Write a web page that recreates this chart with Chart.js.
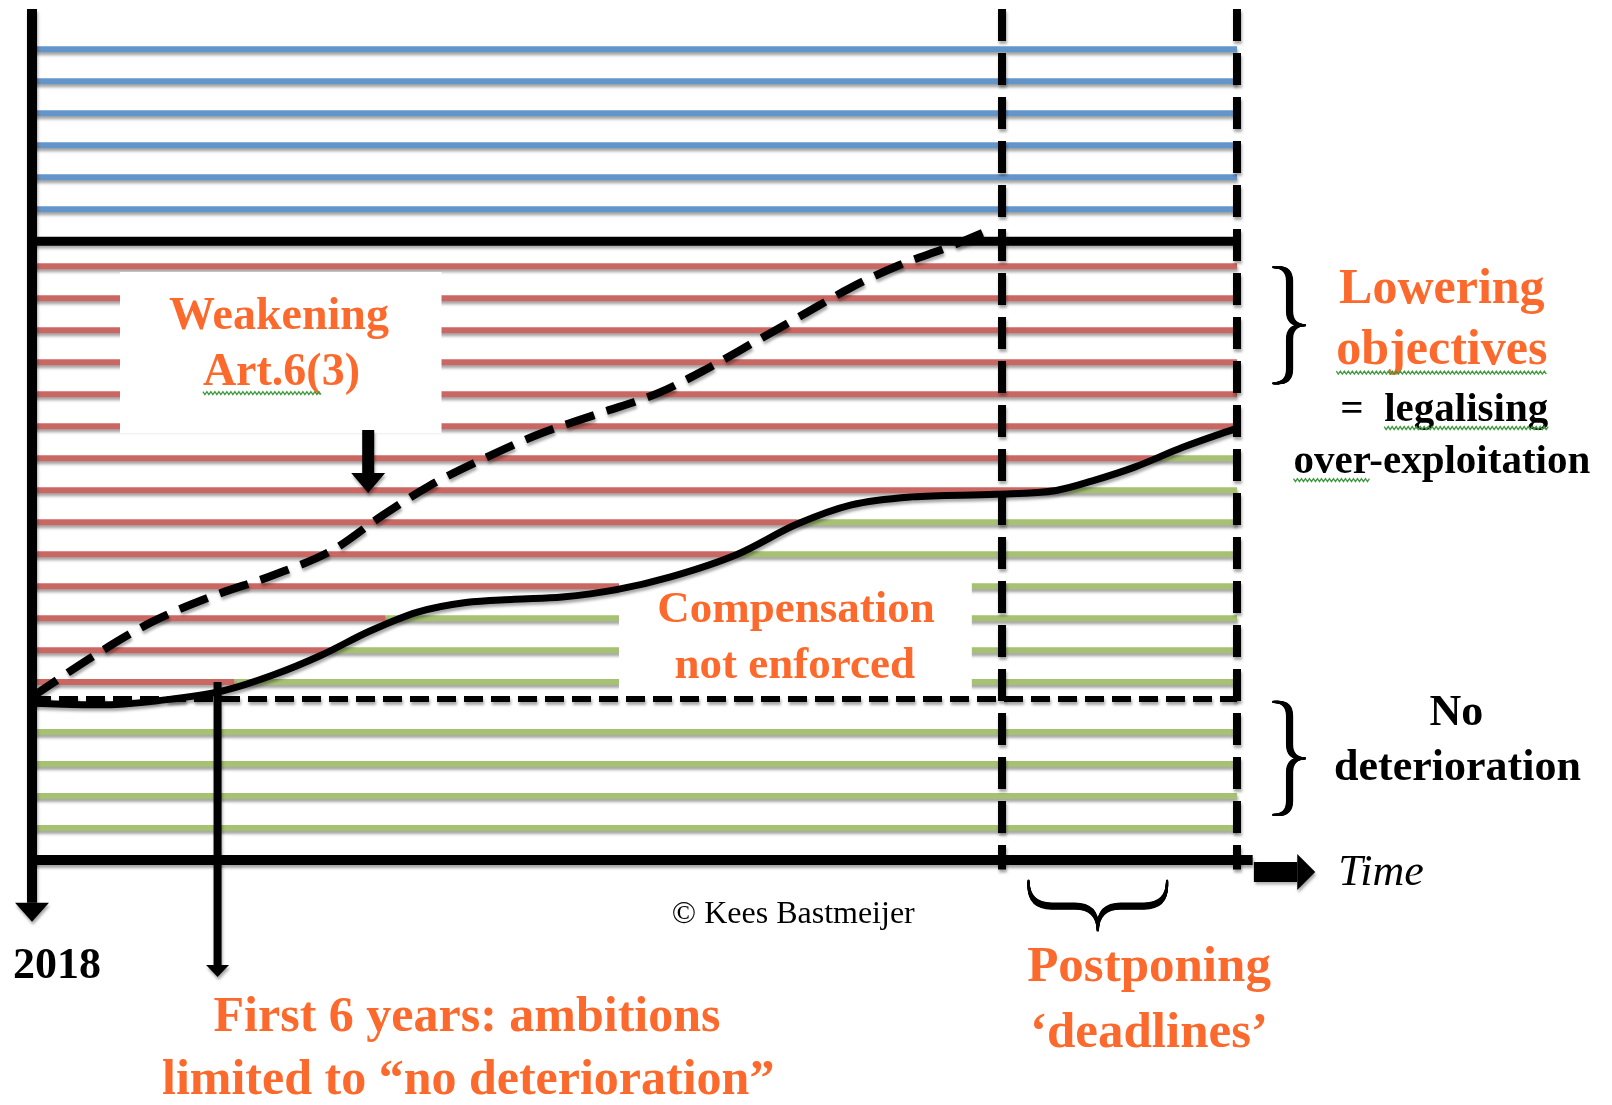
<!DOCTYPE html>
<html>
<head>
<meta charset="utf-8">
<title>Status of water bodies over time</title>
<script src="https://cdn.jsdelivr.net/npm/chart.js@4.4.1/dist/chart.umd.min.js"></script>
<style>
    html, body { margin: 0; padding: 0; background: #fff; }
    #wrap { width: 1612px; height: 1105px; position: relative; }
</style>
</head>
<body>
<div id="wrap"><canvas id="myChart"></canvas></div>
<script>
// Time: 0 = 2018 (the vertical axis), 100 = the last deadline
// Level: 0 = time axis, one unit = gap between two coloured lines
var timeStart = 0;
var timeEnd = 100;
var levelTop = 26.6;

var deadlines = [80.5, 100];
var firstCycleEnd = 15.4;        // 2018 + 6 years
var axisEnd = 101.3;

var blueLevels = [20.34, 21.34, 22.34, 23.34, 24.34, 25.34];
var goodStatusLevel = 19.34;
var redLevels = [5.56, 6.56, 7.56, 8.56, 9.56, 10.56, 11.56, 12.56, 13.56, 14.56, 15.56, 16.56, 17.56, 18.56];
// time at which the actual status passes each red level (null = never)
var redTurnsGreen = [16.8, 25.1, 29.3, 49, 58.3, 63.5, 85.3, 93.6, null, null, null, null, null, null];
var noDeteriorationLevel = 5.03;
var greenLevels = [1, 2, 3, 4];

// actual status (solid curve)
var statusTime = [0, 6, 12, 16, 20, 24, 28, 32, 36, 40, 44, 48.5, 53, 58.5, 63.5, 68, 73, 80, 85, 88, 91.5, 95.5, 100];
var statusLevel = [4.9, 4.85, 5.05, 5.3, 5.78, 6.4, 7.15, 7.75, 8.05, 8.15, 8.22, 8.45, 8.85, 9.55, 10.5, 11.1, 11.35, 11.43, 11.55, 11.85, 12.28, 12.9, 13.5];

// weakened objective (dashed curve)
var objectiveTime = [0, 5, 10, 15, 20, 25, 29, 33, 37.5, 42, 47, 52, 56, 60, 64, 68, 72, 76, 79.8];
var objectiveLevel = [5.1, 6.35, 7.45, 8.25, 8.9, 9.7, 10.75, 11.7, 12.55, 13.3, 13.95, 14.6, 15.35, 16.2, 17.05, 17.9, 18.6, 19.15, 19.75];

// white label boxes covering the lines
var boxTime = [[7.3, 34.0], [48.7, 78.0]];
var boxLevel = [[13.34, 18.38], [5.25, 9.2]];

// "Weakening" arrow
var weakenTime = 27.9;
var weakenLevels = [13.44, 12.1];

var BLUE = '#6495c9';
var RED = '#cb6762';
var GREEN = '#a6c172';
var ORANGE = '#fb6a2c';
var FONT = '"Liberation Serif", "DejaVu Serif", serif';

// Builds a straight line dataset
function segment(x0, y0, x1, y1, color, width, extra) {
    var ds = {
        data: [{ x: x0, y: y0 }, { x: x1, y: y1 }],
        borderColor: color,
        borderWidth: width,
        pointRadius: 0,
        fill: false,
        clip: false,
        tension: 0
    };
    for (var k in extra) ds[k] = extra[k];
    return ds;
}

var datasets = [];

// coloured status lines
blueLevels.forEach(function (lvl) {
    datasets.push(segment(timeStart, lvl, timeEnd, lvl, BLUE, 6, { order: 60, shadow: true }));
});
redLevels.forEach(function (lvl, i) {
    var turn = redTurnsGreen[i];
    datasets.push(segment(timeStart, lvl, turn === null ? timeEnd : turn, lvl, RED, 6, { order: 60, shadow: true }));
    if (turn !== null) {
        datasets.push(segment(turn, lvl, timeEnd, lvl, GREEN, 6, { order: 60, shadow: true }));
    }
});
greenLevels.forEach(function (lvl) {
    datasets.push(segment(timeStart, lvl, timeEnd, lvl, GREEN, 6, { order: 60, shadow: true }));
});

// white boxes behind the labels
boxTime.forEach(function (t, i) {
    datasets.push({
        data: [{ x: t[0], y: boxLevel[i][1] }, { x: t[1], y: boxLevel[i][1] }],
        borderWidth: 0,
        borderColor: 'rgba(0,0,0,0)',
        backgroundColor: '#ffffff',
        pointRadius: 0,
        fill: { value: boxLevel[i][0] },
        order: 50
    });
});

// good status line, no-deterioration line
datasets.push(segment(timeStart, goodStatusLevel, timeEnd, goodStatusLevel, '#000', 9, { order: 40, shadow: true }));
datasets.push(segment(timeStart, noDeteriorationLevel, timeEnd, noDeteriorationLevel, '#000', 6, { order: 30, shadow: true, borderDash: [19, 8] }));

// deadlines
deadlines.forEach(function (t) {
    datasets.push(segment(t, levelTop, t, -0.3, '#000', 8, { order: 20, shadow: true, borderDash: [32, 12] }));
});

// axes and arrows
datasets.push(segment(timeStart, levelTop, timeStart, -1.34, '#000', 10, { order: 20, shadow: true, arrowHead: [34, 19] }));
datasets.push(segment(timeStart, 0, axisEnd, 0, '#000', 10, { order: 20, shadow: true }));
datasets.push(segment(axisEnd + 0.1, -0.375, 105, -0.375, '#000', 20, { order: 20, shadow: true, arrowHead: [36, 18] }));
datasets.push(segment(firstCycleEnd, 5.56, firstCycleEnd, -3.28, '#000', 8, { order: 20, shadow: true, arrowHead: [23, 12] }));
datasets.push(segment(weakenTime, weakenLevels[0], weakenTime, weakenLevels[1], '#000', 12, { order: 20, shadow: true, arrowHead: [34, 20] }));

// objective and actual status curves
datasets.push({
    data: objectiveTime.map(function (t, i) { return { x: t, y: objectiveLevel[i] }; }),
    borderColor: '#000',
    borderWidth: 8,
    borderDash: [30, 13],
    pointRadius: 0,
    fill: false,
    clip: false,
    cubicInterpolationMode: 'monotone',
    order: 5,
    shadow: true
});
datasets.push({
    data: statusTime.map(function (t, i) { return { x: t, y: statusLevel[i] }; }),
    borderColor: '#000',
    borderWidth: 7,
    pointRadius: 0,
    fill: false,
    clip: false,
    cubicInterpolationMode: 'monotone',
    order: 4,
    shadow: true
});

// text labels (time, level of the baseline)
var notes = [
    { text: 'Weakening', t: 20.5, lvl: 16.59, size: 46, style: 'bold', color: ORANGE },
    { text: 'Art.6(3)', t: 20.7, lvl: 14.84, size: 46, style: 'bold', color: ORANGE, squiggle: 'Art.6(' },
    { text: 'Compensation', t: 63.4, lvl: 7.44, size: 45, style: 'bold', color: ORANGE },
    { text: 'not enforced', t: 63.3, lvl: 5.69, size: 45, style: 'bold', color: ORANGE },
    { text: 'Lowering', t: 117, lvl: 17.4, size: 50, style: 'bold', color: ORANGE },
    { text: 'objectives', t: 117, lvl: 15.5, size: 50, style: 'bold', color: ORANGE, squiggle: 'objectives' },
    { text: '=  legalising', t: 117.2, lvl: 13.72, size: 41, style: 'bold', color: '#000', squiggle: 'legalising' },
    { text: 'over-exploitation', t: 117, lvl: 12.09, size: 41, style: 'bold', color: '#000', squiggle: 'over' },
    { text: 'No', t: 118.2, lvl: 4.22, size: 44, style: 'bold', color: '#000' },
    { text: 'deterioration', t: 118.3, lvl: 2.5, size: 44, style: 'bold', color: '#000' },
    { text: 'Time', t: 108.4, lvl: -0.78, size: 44, style: 'italic', color: '#000', align: 'left' },
    { text: '\u00a9 Kees Bastmeijer', t: 53.1, lvl: -1.97, size: 32, style: '', color: '#000', align: 'left' },
    { text: '2018', t: -1.58, lvl: -3.69, size: 44, style: 'bold', color: '#000', align: 'left' },
    { text: 'First 6 years: ambitions', t: 36.1, lvl: -5.34, size: 50, style: 'bold', color: ORANGE },
    { text: 'limited to \u201cno deterioration\u201d', t: 36.2, lvl: -7.31, size: 50, style: 'bold', color: ORANGE },
    { text: 'Postponing', t: 92.7, lvl: -3.78, size: 51, style: 'bold', color: ORANGE },
    { text: '\u2018deadlines\u2019', t: 92.7, lvl: -5.84, size: 51, style: 'bold', color: ORANGE }
];

// curly braces: [time from, level from, time to, level to, depth in px]
var braces = [
    [103.2, 18.53, 103.2, 14.9, 28],
    [103.2, 4.94, 103.2, 1.41, 28],
    [94.2, -0.72, 82.7, -0.72, 46]
];

// Draws a curly brace from A to B, the tip to the right of the direction
function bracePath(ctx, ax, ay, bx, by, depth, shift) {
    var L = Math.hypot(bx - ax, by - ay);
    var ux = (bx - ax) / L, uy = (by - ay) / L;
    var nx = uy, ny = -ux;
    var h = depth / 2, q = Math.min(h, L / 4);
    function p(s, t) { return [ax + ux * s + nx * (t + shift), ay + uy * s + ny * (t + shift)]; }
    var pts = [p(0, 0), p(0, h), p(q, h), p(L / 2 - q, h), p(L / 2, h), p(L / 2, depth),
               p(L / 2, h), p(L / 2 + q, h), p(L - q, h), p(L, h), p(L, 0)];
    ctx.beginPath();
    ctx.moveTo(pts[0][0], pts[0][1]);
    ctx.quadraticCurveTo(pts[1][0], pts[1][1], pts[2][0], pts[2][1]);
    ctx.lineTo(pts[3][0], pts[3][1]);
    ctx.quadraticCurveTo(pts[4][0], pts[4][1], pts[5][0], pts[5][1]);
    ctx.quadraticCurveTo(pts[6][0], pts[6][1], pts[7][0], pts[7][1]);
    ctx.lineTo(pts[8][0], pts[8][1]);
    ctx.quadraticCurveTo(pts[9][0], pts[9][1], pts[10][0], pts[10][1]);
    ctx.stroke();
}

function setShadow(ctx) {
    ctx.shadowColor = 'rgba(0, 0, 0, 0.35)';
    ctx.shadowBlur = 3;
    ctx.shadowOffsetX = 1;
    ctx.shadowOffsetY = 3;
}

var shadowPlugin = {
    id: 'shadow',
    beforeDatasetDraw: function (chart, args) {
        if (chart.data.datasets[args.index].shadow) {
            chart.ctx.save();
            setShadow(chart.ctx);
        }
    },
    afterDatasetDraw: function (chart, args) {
        if (chart.data.datasets[args.index].shadow) chart.ctx.restore();
    }
};

var decorPlugin = {
    id: 'decor',
    afterDatasetsDraw: function (chart) {
        var ctx = chart.ctx;
        var xs = chart.scales.x, ys = chart.scales.y;

        // arrow heads at the end of the arrow datasets
        chart.data.datasets.forEach(function (ds, i) {
            if (!ds.arrowHead) return;
            var pts = chart.getDatasetMeta(i).data;
            var a = pts[pts.length - 2], b = pts[pts.length - 1];
            var len = Math.hypot(b.x - a.x, b.y - a.y);
            var dx = (b.x - a.x) / len, dy = (b.y - a.y) / len;
            var w = ds.arrowHead[0] / 2, h = ds.arrowHead[1];
            ctx.save();
            setShadow(ctx);
            ctx.fillStyle = '#000';
            ctx.beginPath();
            ctx.moveTo(b.x - dy * w, b.y + dx * w);
            ctx.lineTo(b.x + dx * h, b.y + dy * h);
            ctx.lineTo(b.x + dy * w, b.y - dx * w);
            ctx.closePath();
            ctx.fill();
            ctx.restore();
        });

        // braces, drawn with a broad nib so the long strokes are heavier
        ctx.save();
        ctx.strokeStyle = '#000';
        ctx.lineWidth = 2.2;
        ctx.lineCap = 'round';
        braces.forEach(function (b) {
            for (var s = -2.5; s <= 2.5; s += 0.5) {
                bracePath(ctx, xs.getPixelForValue(b[0]), ys.getPixelForValue(b[1]),
                    xs.getPixelForValue(b[2]), ys.getPixelForValue(b[3]), b[4], s);
            }
        });
        ctx.restore();
    },
    afterDraw: function (chart) {
        var ctx = chart.ctx;
        var xs = chart.scales.x, ys = chart.scales.y;
        notes.forEach(function (n) {
            var x = xs.getPixelForValue(n.t), y = ys.getPixelForValue(n.lvl);
            ctx.save();
            ctx.font = (n.style ? n.style + ' ' : '') + n.size + 'px ' + FONT;
            ctx.fillStyle = n.color;
            ctx.textBaseline = 'alphabetic';
            ctx.textAlign = n.align || 'center';
            ctx.fillText(n.text, x, y);
            if (n.squiggle) {
                var full = ctx.measureText(n.text).width;
                var left = n.align === 'left' ? x : x - full / 2;
                var idx = n.text.indexOf(n.squiggle);
                var sx = left + ctx.measureText(n.text.slice(0, idx)).width;
                var ex = sx + ctx.measureText(n.squiggle).width;
                var sy = y + n.size * 0.17;
                ctx.strokeStyle = '#3d9b3d';
                ctx.lineWidth = 1.3;
                ctx.beginPath();
                for (var px = sx, k = 0; px <= ex; px += 2, k++) {
                    var py = sy + (k % 2 ? 1.5 : -1.5);
                    if (k === 0) ctx.moveTo(px, py); else ctx.lineTo(px, py);
                }
                ctx.stroke();
            }
            ctx.restore();
        });
    }
};

var myChart = new Chart(document.getElementById('myChart'), {
    type: 'line',
    data: { datasets: datasets },
    options: {
        responsive: true,
        maintainAspectRatio: false,
        animation: false,
        events: [],
        layout: { padding: { left: 32, right: 375, top: 9, bottom: 245 } },
        scales: {
            x: { type: 'linear', min: timeStart, max: timeEnd, display: false },
            y: { type: 'linear', min: 0, max: levelTop, display: false }
        },
        plugins: {
            legend: { display: false },
            tooltip: { enabled: false },
            title: { display: false }
        }
    },
    plugins: [shadowPlugin, decorPlugin]
});
</script>
</body>
</html>
